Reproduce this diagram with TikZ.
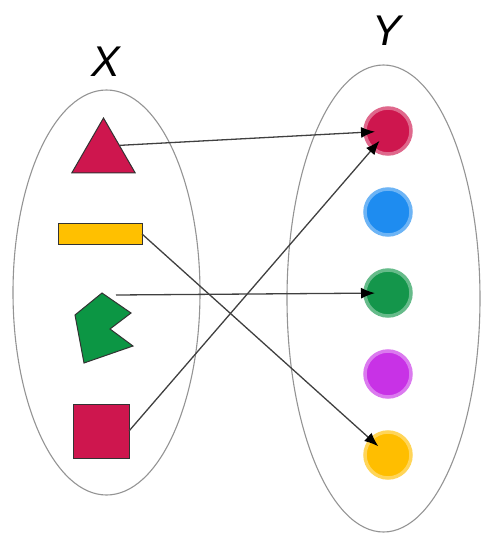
\documentclass[tikz,border=0pt]{standalone}
\usepackage{fontspec}
\setsansfont{Liberation Sans}
\usetikzlibrary{arrows.meta,shapes.geometric}
\definecolor{crimson}{RGB}{206,22,78}
\definecolor{amber}{RGB}{255,192,0}
\definecolor{leaf}{RGB}{12,150,68}
\definecolor{sky}{RGB}{30,140,240}
\definecolor{violet}{RGB}{200,50,230}
\definecolor{gold}{RGB}{255,190,0}
\definecolor{jade}{RGB}{20,150,75}
\begin{document}
\begin{tikzpicture}[x=1pt, y=-1pt, inner sep=0pt, outer sep=0pt,
   set/.style={draw=black!42, line width=1.1pt},
   lbl/.style={font=\fontsize{43}{43}\sffamily\itshape},
   elem/.style={draw=black!80, line width=1pt},
   dot/.style={circle, minimum size=46pt, fill=#1, draw=#1!65, line width=3.5pt},
   map/.style={draw=black!75, line width=1.3pt, shorten >=13pt, -{Latex[length=14pt,width=11pt,black]}}]
   \useasboundingbox (0,0) rectangle (484,533);
   \draw[set] (106.5,292.5) ellipse [x radius=93.5, y radius=202.5];
   \draw[set] (383.5,298.5) ellipse [x radius=96.5, y radius=233.5];
   \node[lbl] (X) at (106,62) {X};
   \node[lbl] (Y) at (387,31) {Y};
   \node[elem, regular polygon, regular polygon sides=3, minimum size=73pt, fill=crimson] (x1) at (103.5,154.5) {};
   \node[elem, rectangle, minimum width=84pt, minimum height=21pt, fill=amber] (x2) at (100,234) {};
   \draw[elem, fill=leaf] (102,293) -- (75,315) -- (84,363) -- (133,346) -- (110,329) -- (131,313) -- cycle;
   \coordinate (x3) at (116,295);
   \node[elem, rectangle, minimum width=56pt, minimum height=54pt, fill=crimson] (x4) at (101,431) {};
   \node[dot=crimson] (y1) at (388,131) {};
   \node[dot=sky] (y2) at (388,212) {};
   \node[dot=jade] (y3) at (388,293) {};
   \node[dot=violet] (y4) at (388,374) {};
   \node[dot=gold] (y5) at (388,455) {};
   \draw[map] (x1.side 3) -- (y1.center);
   \draw[map] (x2.east) -- (y5.center);
   \draw[map] (x3) -- (y3.center);
   \draw[map] (x4.east) -- (y1.center);
\end{tikzpicture}
\end{document}
